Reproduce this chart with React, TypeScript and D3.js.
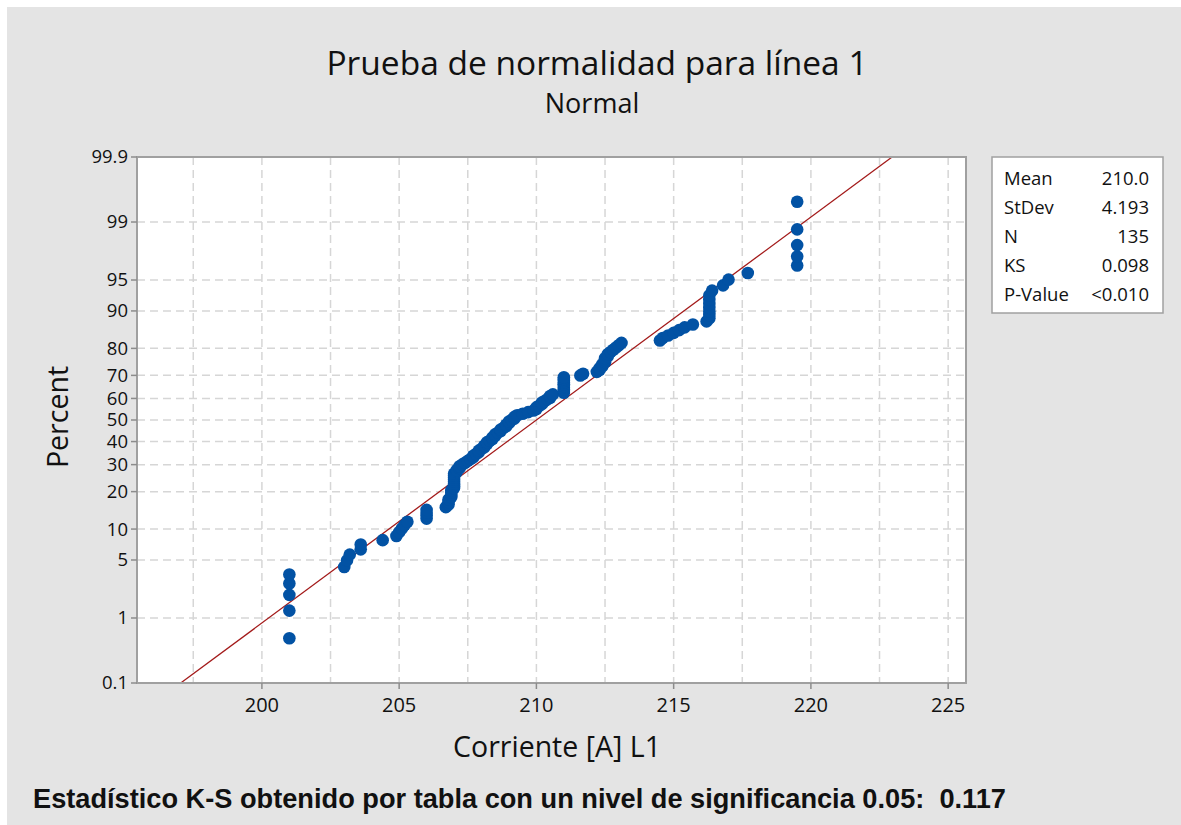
import { useMemo } from "react"
import * as d3 from "d3"

const W = 1181, H = 825
// plot frame
const PL = 137, PR = 966, PT = 157, PB = 683

const current = [
  201.0, 201.0, 201.0, 201.0, 201.0,
  203.0, 203.1, 203.2, 203.6, 203.6,
  204.4,
  204.9, 205.0, 205.1, 205.2, 205.3,
  206.0, 206.0, 206.0, 206.0,
  206.7, 206.8, 206.8, 206.8, 206.9, 206.9, 206.9, 206.9,
  207.0, 207.0, 207.0, 207.0, 207.0, 207.0, 207.0, 207.0,
  207.1, 207.1, 207.2, 207.2, 207.3, 207.4, 207.5,
  207.6, 207.7, 207.7, 207.8, 207.9, 207.9, 208.0, 208.1,
  208.1, 208.2, 208.2, 208.3, 208.4, 208.4, 208.5, 208.5, 208.6, 208.7, 208.7,
  208.8, 208.9, 208.9, 209.0, 209.0, 209.1, 209.2, 209.2, 209.3,
  209.5, 209.7, 209.9,
  210.0, 210.0, 210.1, 210.2, 210.2, 210.3, 210.4,
  210.5, 210.5, 210.6,
  211.0, 211.0, 211.0, 211.0, 211.0, 211.0, 211.0, 211.0, 211.0, 211.0,
  211.6, 211.7,
  212.2, 212.3, 212.3, 212.4, 212.4, 212.5, 212.5, 212.5, 212.6, 212.6, 212.7, 212.8,
  212.9, 213.0, 213.1,
  214.5, 214.6, 214.8, 215.0, 215.2, 215.4, 215.7,
  216.2, 216.3, 216.3, 216.3, 216.3, 216.3, 216.3, 216.3, 216.4,
  216.8, 217.0,
  217.7,
  219.5, 219.5, 219.5, 219.5, 219.5,
]

const percentTicks = [0.1, 1, 5, 10, 20, 30, 40, 50, 60, 70, 80, 90, 95, 99, 99.9]
const xTickValues = [200, 205, 210, 215, 220, 225]
const xGridValues = [197.5, 200, 202.5, 205, 207.5, 210, 212.5, 215, 217.5, 220, 222.5, 225]
const xDomain = [195.45, 225.65]

const statLabels = ["Mean", "StDev", "N", "KS", "P-Value"]
const statValues = ["210.0", "4.193", "135", "0.098", "<0.010"]
const fitMean = 210.0
const fitSd = 4.193

const FONT = "'Open Sans', 'Noto Sans', sans-serif"

// inverse normal CDF (Acklam)
function qnorm(p: number): number {
  const a = [-3.969683028665376e1, 2.209460984245205e2, -2.759285104469687e2, 1.38357751867269e2, -3.066479806614716e1, 2.506628277459239]
  const b = [-5.447609879822406e1, 1.615858368580409e2, -1.556989798598866e2, 6.680131188771972e1, -1.328068155288572e1]
  const c = [-7.784894002430293e-3, -3.223964580411365e-1, -2.400758277161838, -2.549732539343734, 4.374664141464968, 2.938163982698783]
  const d = [7.784695709041462e-3, 3.224671290700398e-1, 2.445134137142996, 3.754408661907416]
  const pl = 0.02425
  if (p < pl) {
    const q = Math.sqrt(-2 * Math.log(p))
    return (((((c[0] * q + c[1]) * q + c[2]) * q + c[3]) * q + c[4]) * q + c[5]) /
      ((((d[0] * q + d[1]) * q + d[2]) * q + d[3]) * q + 1)
  }
  if (p > 1 - pl) {
    const q = Math.sqrt(-2 * Math.log(1 - p))
    return -(((((c[0] * q + c[1]) * q + c[2]) * q + c[3]) * q + c[4]) * q + c[5]) /
      ((((d[0] * q + d[1]) * q + d[2]) * q + d[3]) * q + 1)
  }
  const q = p - 0.5, r = q * q
  return (((((a[0] * r + a[1]) * r + a[2]) * r + a[3]) * r + a[4]) * r + a[5]) * q /
    (((((b[0] * r + b[1]) * r + b[2]) * r + b[3]) * r + b[4]) * r + 1)
}

export default function App() {
  const x = d3.scaleLinear().domain(xDomain).range([PL, PR])
  const y = d3.scaleLinear().domain([qnorm(0.001), qnorm(0.999)]).range([PB, PT])
  const yp = (pct: number) => y(qnorm(pct / 100))

  // median-rank plotting positions
  const pts = useMemo(() => {
    const n = current.length
    return current.map((v, i) => ({ v, p: (i + 1 - 0.3) / (n + 0.4) }))
  }, [])

  const fitLine = d3.line<number>()
    .x(p => x(fitMean + fitSd * qnorm(p)))
    .y(p => y(qnorm(p)))([0.001, 0.999])

  const lx = 992, ly = 157, lw = 171, lh = 156

  return (
    <svg width={W} height={H} style={{ position: "absolute", left: 0, top: 0, display: "block" }}
      fontFamily={FONT}>
      <rect x={0} y={0} width={W} height={H} fill="#ffffff" />
      <rect x={7} y={7} width={W - 7} height={H - 7} fill="#e4e4e4" />

      <text x={597} y={75} textAnchor="middle" fontSize={33.5} fill="#111">Prueba de normalidad para línea 1</text>
      <text x={592} y={113} textAnchor="middle" fontSize={27} fill="#111">Normal</text>

      {/* plot area */}
      <rect x={PL} y={PT} width={PR - PL} height={PB - PT} fill="#fff" />

      {xGridValues.map(t => (
        <line key={"gx" + t} x1={x(t)} x2={x(t)} y1={PT} y2={PB}
          stroke="#d6d6d6" strokeWidth={1.5} strokeDasharray="8 5" />
      ))}
      {percentTicks.slice(1, -1).map(t => (
        <line key={"gy" + t} x1={PL} x2={PR} y1={yp(t)} y2={yp(t)}
          stroke="#d6d6d6" strokeWidth={1.5} strokeDasharray="8 5" />
      ))}

      <path d={fitLine ?? ""} stroke="#a31a1a" strokeWidth={1.3} fill="none" />

      {pts.map((d, i) => (
        <circle key={i} cx={x(d.v)} cy={y(qnorm(d.p))} r={6.3} fill="#0252a4" />
      ))}

      <rect x={PL} y={PT} width={PR - PL} height={PB - PT} fill="none" stroke="#a0a0a0" strokeWidth={2} />

      {/* y axis */}
      {percentTicks.map(t => (
        <g key={"ty" + t} transform={`translate(${PL},${yp(t)})`}>
          <line x1={-6} x2={0} stroke="#8c8c8c" strokeWidth={1.5} />
          <text x={-9} dy="0.35em" textAnchor="end" fontSize={18.5} fill="#111">{t}</text>
        </g>
      ))}
      <text transform={`translate(68,417) rotate(-90)`} textAnchor="middle"
        fontSize={28.5} fill="#111">Percent</text>

      {/* x axis */}
      {xTickValues.map(t => (
        <g key={"tx" + t} transform={`translate(${x(t)},${PB})`}>
          <line y1={0} y2={6} stroke="#8c8c8c" strokeWidth={1.5} />
          <text y={29} textAnchor="middle" fontSize={20} fill="#111">{t}</text>
        </g>
      ))}
      <text x={557} y={757} textAnchor="middle" fontSize={28.5} fill="#111">Corriente [A] L1</text>

      {/* stats box */}
      <rect x={lx} y={ly} width={lw} height={lh} fill="#fff" stroke="#a0a0a0" strokeWidth={1.5} />
      {statLabels.map((s, i) => (
        <g key={s}>
          <text x={lx + 12} y={ly + 28 + i * 29} fontSize={18.5} fill="#111">{s}</text>
          <text x={lx + lw - 14} y={ly + 28 + i * 29} fontSize={18.5} fill="#111" textAnchor="end">{statValues[i]}</text>
        </g>
      ))}

      <text x={33} y={808} fontSize={27.2} fontWeight="bold" fill="#111" xmlSpace="preserve"
        fontFamily="'Liberation Sans', Arial, sans-serif">
        {"Estadístico K-S obtenido por tabla con un nivel de significancia 0.05:\u00a0 0.117"}
      </text>
    </svg>
  )
}
